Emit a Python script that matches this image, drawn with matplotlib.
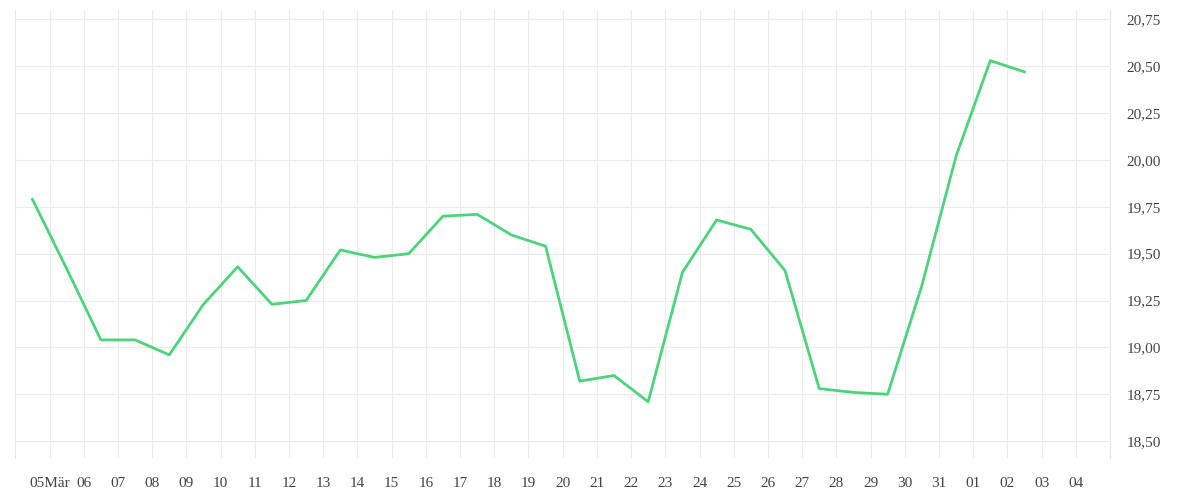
import matplotlib
matplotlib.use("Agg")
import matplotlib.pyplot as plt
from matplotlib.ticker import FuncFormatter

plt.rcParams['font.family'] = ['Liberation Serif', 'DejaVu Serif']

day_labels = ['05Mär', '06', '07', '08', '09', '10', '11', '12', '13', '14', '15', '16',
              '17', '18', '19', '20', '21', '22', '23', '24', '25', '26', '27', '28',
              '29', '30', '31', '01', '02', '03', '04']
# one value per day, sampled at mid-day (index - 0.5)
values = [19.79, 19.42, 19.04, 19.04, 18.96, 19.23, 19.43, 19.23, 19.25, 19.52,
          19.48, 19.50, 19.70, 19.71, 19.60, 19.54, 18.82, 18.85, 18.71, 19.40,
          19.68, 19.63, 19.41, 18.78, 18.76, 18.75, 19.33, 20.02, 20.53, 20.47]
y_ticks = [18.50, 18.75, 19.00, 19.25, 19.50, 19.75, 20.00, 20.25, 20.50, 20.75]

x = [i - 0.5 for i in range(len(values))]

fig = plt.figure(figsize=(12, 5), dpi=100)
ax = fig.add_axes([15/1200, 1 - 458/500, (1110 - 15)/1200, 448/500])
ax.plot(x, values, color='#4cd37b', lw=2.0)

ax.set_xlim(-1.01, 31.0)
ax.set_ylim(18.41, 20.80)
ax.set_xticks(range(len(day_labels)))
ax.set_xticklabels(day_labels)
ax.set_yticks(y_ticks)
ax.yaxis.set_major_formatter(FuncFormatter(lambda v, p: f"{v:.2f}".replace('.', ',')))
ax.yaxis.tick_right()
ax.tick_params(length=0, labelsize=11, colors='#444444')
ax.tick_params(axis='x', pad=14)
ax.tick_params(axis='y', pad=12)
ax.grid(True, color='#ebebeb', lw=0.8)
for s in ['top', 'bottom']:
    ax.spines[s].set_visible(False)
for s in ['left', 'right']:
    ax.spines[s].set_color('#e6e6e6')

fig.savefig('out.png', dpi=100)
